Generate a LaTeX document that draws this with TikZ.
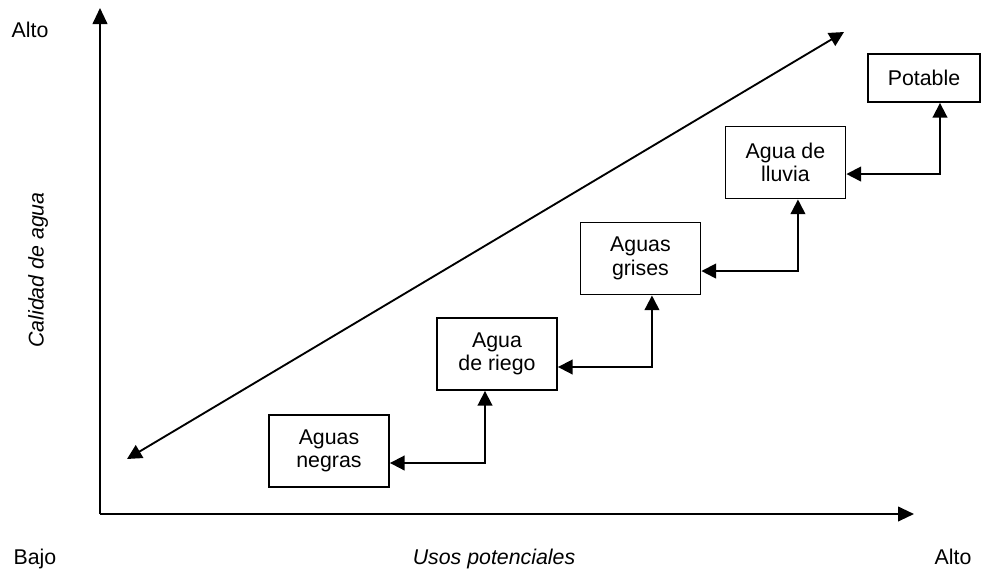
\documentclass[tikz,border=0pt]{standalone}
\usepackage{fontspec}
\setmainfont{Liberation Sans}
\usetikzlibrary{positioning, arrows.meta, calc}

\begin{document}
\begin{tikzpicture}[x=0.75pt,y=-0.75pt,on grid,
    every node/.style={font=\fontsize{16}{17.5}\selectfont},
    box/.style={draw,line width=1.4pt,minimum width=90pt,minimum height=54pt,align=center,inner sep=2pt},
    link/.style={{Triangle[length=11pt,width=11pt]}-{Triangle[length=11pt,width=11pt]},line width=1.4pt},
    axis/.style={-{Triangle[length=12pt,width=11pt]},line width=1.5pt}]
  \useasboundingbox (0,0) rectangle (983,572);
  % axes
  \coordinate (origin) at (100,514);
  \coordinate (ytop)   at (100,8);
  \coordinate (xend)   at (914,514);
  \draw[axis] (origin) -- (ytop);
  \draw[axis] (origin) -- (xend);
  \node[anchor=base] (altoy) at (30,37)   {Alto};
  \node[anchor=base] (bajo)  at (35,564)  {Bajo};
  \node[anchor=base] (usos)  at (494,564) {\itshape Usos potenciales};
  \node[anchor=base] (altox) at (953,564) {Alto};
  \node[rotate=90] (calidad) at (38,270) {\itshape Calidad de agua};
  % diagonal
  \coordinate (lo) at (127,459);
  \coordinate (hi) at (844,32);
  \draw[link] (lo) -- (hi);
  % boxes
  \node[box] (negras) at (329,451) {Aguas\\negras};
  \node[box] (riego)   [above right=72.75pt and 126pt of negras]  {Agua\\de riego};
  \node[box] (grises)  [above right=71.6pt and 107.6pt of riego]  {Aguas\\grises};
  \node[box] (lluvia)  [above right=72pt and 108.75pt of grises]  {Agua de\\lluvia};
  \node[box,minimum width=84pt,minimum height=36pt] (potable) [above right=63.4pt and 103.9pt of lluvia] {Potable};
  % links
  \draw[link] ($(negras.east)+(0,12)$) -| ($(riego.south)+(-12,0)$);
  \draw[link] ($(riego.east)+(0,13)$) -| ($(grises.south)+(11.5,0)$);
  \draw[link] ($(grises.east)+(0,12.5)$) -| ($(lluvia.south)+(12.5,0)$);
  \draw[link] ($(lluvia.east)+(0,11.5)$) -| ($(potable.south)+(16,0)$);
\end{tikzpicture}
\end{document}
